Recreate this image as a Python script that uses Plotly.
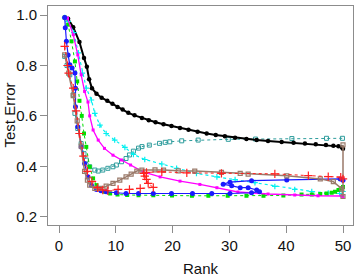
import plotly.graph_objects as go

# ---- data (rank, test error) ----
black_x = [1, 1.6, 2.5, 3.6, 4.4, 4.9, 5.3, 5.8, 6.6, 7.5, 8.5, 9.4, 10.3, 11.2, 12.2, 13.3, 14.6, 15.8, 17.0, 18.4, 19.8, 21.3, 22.8, 24.4, 26.0, 27.6, 29.2, 31.0, 33.0, 34.8, 36.8, 39.2, 41.3, 43.3, 45.2, 47.0, 48.3, 49.2, 49.8, 50]
black_y = [0.99, 0.985, 0.952, 0.893, 0.83, 0.795, 0.745, 0.71, 0.688, 0.672, 0.66, 0.648, 0.635, 0.625, 0.612, 0.602, 0.592, 0.583, 0.575, 0.567, 0.56, 0.552, 0.545, 0.537, 0.53, 0.524, 0.519, 0.513, 0.508, 0.504, 0.5, 0.496, 0.493, 0.49, 0.487, 0.484, 0.481, 0.479, 0.475, 0.47]

teal_x = [1, 1.4, 1.9, 2.5, 2.8, 3.3, 3.9, 4.4, 4.8, 5.4, 6.3, 6.9, 7.7, 8.6, 9.5, 10.1, 11.0, 11.8, 12.4, 13.1, 14.0, 14.6, 15.9, 17.7, 18.7, 19.5, 21.6, 24.5, 29.8, 34.6, 41.0, 47.1, 49.9]
teal_y = [0.836, 0.80, 0.763, 0.684, 0.61, 0.55, 0.49, 0.45, 0.425, 0.398, 0.385, 0.381, 0.385, 0.392, 0.398, 0.405, 0.418, 0.431, 0.445, 0.46, 0.472, 0.478, 0.484, 0.491, 0.495, 0.497, 0.501, 0.504, 0.507, 0.508, 0.51, 0.511, 0.511]

cyan_x = [1, 1.6, 2.6, 3.4, 4.1, 4.8, 5.7, 6.3, 7.2, 8.3, 9.8, 11.6, 13.1, 15.1, 18.1, 20.7, 24.2, 27.8, 31.0, 34.5, 38.0, 41.5, 44.5, 47.4, 49.4, 50]
cyan_y = [0.99, 0.975, 0.93, 0.85, 0.77, 0.71, 0.663, 0.61, 0.563, 0.53, 0.504, 0.475, 0.447, 0.427, 0.409, 0.392, 0.372, 0.358, 0.347, 0.335, 0.32, 0.308, 0.3, 0.294, 0.292, 0.30]

green_x = [1, 1.6, 2.2, 2.8, 3.2, 3.6, 4.0, 4.4, 4.8, 5.4, 6.0, 6.6, 7.2, 8.0, 9.0, 10.3, 12.0, 14.0, 16.6, 19.9, 23.4, 26.3, 29.7, 33.0, 36.0, 39.5, 42.7, 44.5, 46.0, 47.1, 48.0, 48.6, 49.2, 49.6, 50]
green_y = [0.99, 0.962, 0.896, 0.816, 0.737, 0.66, 0.6, 0.53, 0.477, 0.398, 0.352, 0.325, 0.308, 0.299, 0.292, 0.288, 0.286, 0.285, 0.285, 0.284, 0.283, 0.283, 0.283, 0.283, 0.283, 0.284, 0.288, 0.288, 0.29, 0.292, 0.295, 0.299, 0.306, 0.312, 0.318]

blue_x = [1, 1.1, 1.3, 1.6, 1.9, 2.3, 2.8, 2.9, 2.9, 3.3, 3.9, 4.5, 5.1, 5.7, 6.6, 7.4, 8.3, 10.1, 11.8, 14.0, 16.6, 19.8, 23.5, 26.9, 30.1, 33.9, 35.3, 34.8, 33.3, 31.9, 30.4, 28.9, 30.1, 33.9, 40.1, 49.5, 50]
blue_y = [0.99, 0.95, 0.896, 0.842, 0.803, 0.79, 0.77, 0.71, 0.636, 0.557, 0.477, 0.411, 0.358, 0.325, 0.308, 0.303, 0.299, 0.295, 0.292, 0.292, 0.292, 0.292, 0.292, 0.292, 0.292, 0.295, 0.299, 0.306, 0.315, 0.315, 0.323, 0.329, 0.337, 0.343, 0.346, 0.35, 0.345]

magenta_x = [1, 1.5, 2.5, 3.3, 3.9, 4.5, 5.1, 5.4, 6.0, 6.9, 8.0, 9.5, 11.0, 12.6, 14.8, 17.8, 21.3, 24.8, 27.8, 31.5, 36.8, 41.5, 45.6, 49.8, 50]
magenta_y = [0.99, 0.988, 0.922, 0.842, 0.763, 0.697, 0.655, 0.6, 0.544, 0.504, 0.471, 0.444, 0.425, 0.405, 0.378, 0.358, 0.341, 0.328, 0.315, 0.298, 0.29, 0.286, 0.283, 0.282, 0.28]

red_x = [1, 1.5, 1.7, 2.5, 3.0, 3.6, 4.3, 5.0, 5.8, 6.8, 7.7, 8.6, 10.4, 12.4, 14.3, 16.6, 15.7, 15.4, 15.1, 14.9, 15.4, 18.1, 22.5, 28.6, 38.0, 43.9, 47.4, 49.6, 50]
red_y = [0.876, 0.80, 0.77, 0.71, 0.62, 0.53, 0.44, 0.38, 0.34, 0.315, 0.306, 0.303, 0.308, 0.308, 0.312, 0.316, 0.332, 0.348, 0.361, 0.372, 0.376, 0.378, 0.374, 0.372, 0.37, 0.363, 0.359, 0.357, 0.35]

brown_x = [1, 1.7, 2.5, 3.2, 3.9, 4.5, 5.0, 5.4, 6.3, 7.2, 8.3, 9.5, 10.7, 11.8, 12.7, 13.7, 14.6, 16.9, 18.4, 21.0, 23.9, 28.6, 31.9, 33.3, 40.1, 46.0, 48.3, 49.8, 50, 50]
brown_y = [0.842, 0.77, 0.68, 0.58, 0.48, 0.38, 0.345, 0.325, 0.312, 0.312, 0.321, 0.332, 0.345, 0.358, 0.369, 0.381, 0.385, 0.386, 0.385, 0.382, 0.381, 0.376, 0.372, 0.369, 0.362, 0.35, 0.339, 0.31, 0.28, 0.485]

x_ticks = [0, 10, 20, 30, 40, 50]
y_ticks = [0.2, 0.4, 0.6, 0.8, 1.0]
y_tick_text = ["0.2", "0.4", "0.6", "0.8", "1.0"]

FONT = "Liberation Sans, Arial, Helvetica, sans-serif"

fig = go.Figure()

def add(x, y, color, dash, width, symbol, size, mline=0):
    fig.add_trace(go.Scatter(
        x=x, y=y, mode="lines+markers",
        line=dict(color=color, dash=dash, width=width),
        marker=dict(color=color, symbol=symbol, size=size,
                    line=dict(color=color, width=mline)),
        showlegend=False, hoverinfo="skip"))

add(teal_x, teal_y, "#2f9d9d", "dot", 1, "square-open", 4, 1)
add(black_x, black_y, "#000000", "solid", 2, "circle", 4.5)
add(cyan_x, cyan_y, "#00f0f0", "dot", 1.2, "cross-thin-open", 4, 1.2)
add(green_x, green_y, "#00e000", "dot", 1, "square", 4)
add(magenta_x, magenta_y, "#ff00ff", "solid", 1.3, "square", 3)
add(blue_x, blue_y, "#1a1aff", "solid", 1.2, "circle", 5)
add(brown_x, brown_y, "#9a7a6a", "solid", 1.5, "square-open", 4, 1.2)
add(red_x, red_y, "#ff2020", "dot", 1, "cross-thin-open", 6, 1.2)

axis_common = dict(
    showline=True, mirror=True, linecolor="#8c8c8c", linewidth=1,
    ticks="outside", ticklen=7, tickcolor="#8c8c8c", tickwidth=1,
    showgrid=False, zeroline=False, automargin=False,
    tickfont=dict(family=FONT, size=15, color="#111111"),
)

fig.update_layout(
    width=360, height=277,
    margin=dict(l=48, r=7, t=6, b=52),
    paper_bgcolor="white", plot_bgcolor="white",
    font=dict(family=FONT, size=15, color="#111111"),
    xaxis=dict(range=[-1.94, 51.76], tickvals=x_ticks, **axis_common),
    yaxis=dict(range=[0.167, 1.036], tickvals=y_ticks, ticktext=y_tick_text,
               **axis_common),
    annotations=[
        dict(text="Rank", xref="paper", yref="paper", x=0.5, y=0,
             xanchor="center", yanchor="middle", yshift=-43, showarrow=False,
             font=dict(family=FONT, size=15, color="#111111")),
        dict(text="Test Error", xref="paper", yref="paper", x=0, y=0.5,
             xanchor="center", yanchor="middle", xshift=-39, textangle=-90,
             showarrow=False,
             font=dict(family=FONT, size=15, color="#111111")),
    ],
)

fig.write_html("out.html", config={"displayModeBar": False},
               post_script="document.body.style.margin='0';document.body.style.overflow='hidden';")
